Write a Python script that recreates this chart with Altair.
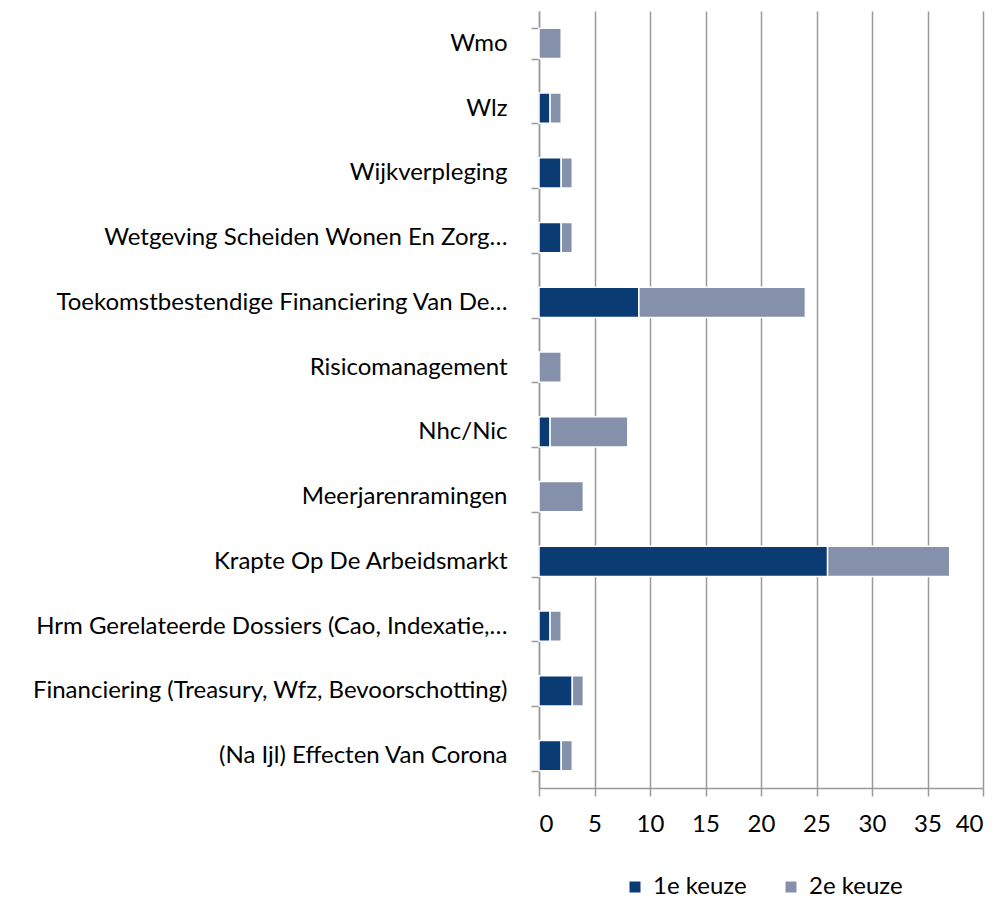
import altair as alt
import pandas as pd

categories = [
    "Wmo",
    "Wlz",
    "Wijkverpleging",
    "Wetgeving Scheiden Wonen En Zorg…",
    "Toekomstbestendige Financiering Van De…",
    "Risicomanagement",
    "Nhc/Nic",
    "Meerjarenramingen",
    "Krapte Op De Arbeidsmarkt",
    "Hrm Gerelateerde Dossiers (Cao, Indexatie,…",
    "Financiering (Treasury, Wfz, Bevoorschotting)",
    "(Na Ijl) Effecten Van Corona",
]
keuze1 = [0, 1, 2, 2, 9, 0, 1, 0, 26, 1, 3, 2]
keuze2 = [2, 1, 1, 1, 15, 2, 7, 4, 11, 1, 1, 1]
series = ["1e keuze", "2e keuze"]
colors = ["#0B3B73", "#8590AA"]
x_ticks = [0, 5, 10, 15, 20, 25, 30, 35, 40]

rows = []
for c, a, b in zip(categories, keuze1, keuze2):
    rows.append({"cat": c, "serie": series[0], "val": a, "ord": 0})
    rows.append({"cat": c, "serie": series[1], "val": b, "ord": 1})
df = pd.DataFrame(rows)

FONT = "Lato"
FS = 24
GREY = "#9A9A9A"

chart = alt.Chart(df).mark_bar(stroke="white", strokeWidth=1.5).encode(
    y=alt.Y("cat:N", sort=categories, title=None,
            scale=alt.Scale(paddingInner=0.53, paddingOuter=0.265),
            axis=alt.Axis(tickBand="extent", tickSize=8, labelPadding=24,
                          labelFontSize=FS, labelFont=FONT, labelColor="#000000",
                          domainColor=GREY, tickColor=GREY,
                          domainWidth=1.5, tickWidth=1.5, labelLimit=700,
                          grid=False)),
    x=alt.X("val:Q", stack="zero", title=None,
            scale=alt.Scale(domain=[0, 40], nice=False),
            axis=alt.Axis(values=x_ticks, tickSize=8, labelPadding=16,
                          labelFontSize=FS, labelFont=FONT, labelColor="#000000",
                          domainColor=GREY, tickColor=GREY,
                          gridColor=GREY, gridWidth=1.5,
                          domainWidth=1.5, tickWidth=1.5, grid=True)),
    color=alt.Color("serie:N", scale=alt.Scale(domain=series, range=colors),
                    legend=alt.Legend(title=None, orient="none", direction="horizontal",
                                      legendX=84, legendY=864, symbolType="square",
                                      symbolSize=121, symbolStrokeWidth=0,
                                      labelFontSize=FS, labelFont=FONT,
                                      labelColor="#000000", columnPadding=32,
                                      labelOffset=6)),
    order=alt.Order("ord:Q"),
).properties(
    width=444, height=777,
    padding={"left": 531, "top": 3, "right": 10, "bottom": 110},
    autosize=alt.AutoSizeParams(type="none"),
).configure_view(stroke=None)

chart.save("out.html", embed_options={"renderer": "svg", "actions": False})
